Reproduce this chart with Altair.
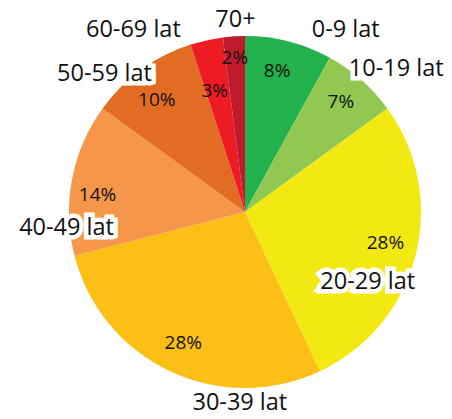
import altair as alt
import pandas as pd
import math

categories = ["0-9 lat", "10-19 lat", "20-29 lat", "30-39 lat", "40-49 lat", "50-59 lat", "60-69 lat", "70+"]
values = [8, 7, 28, 28, 14, 10, 3, 2]
pct_labels = ["8%", "7%", "28%", "28%", "14%", "10%", "3%", "2%"]
colors = ["#22B14C", "#92C851", "#F2E913", "#FBBF15", "#F5964A", "#E36C25", "#ED1C24", "#BE1C2C"]

df = pd.DataFrame({
    "cat": categories,
    "value": values,
    "pct": pct_labels,
    "idx": list(range(len(categories))),
})

CX, CY = 237, 204
R = 176
FONT = "Open Sans"

color = alt.Color("cat:N", scale=alt.Scale(domain=categories, range=colors), legend=None)

# slice start / end / mid fractions computed from the data
base = alt.Chart(df).transform_window(
    cum="sum(value)", sort=[alt.SortField("idx")], frame=[None, 0]
).transform_joinaggregate(
    total="sum(value)"
).transform_calculate(
    start="(datum.cum - datum.value) / datum.total",
    end="datum.cum / datum.total",
    mid="(datum.cum - datum.value / 2) / datum.total",
)
tscale = alt.Scale(domain=[0, 1], range=[0, 2 * math.pi])

arcs = base.mark_arc(outerRadius=R, stroke=None).encode(
    theta=alt.Theta("start:Q", stack=None, scale=tscale),
    theta2="end:Q",
    color=color,
    x=alt.value(CX), y=alt.value(CY),
)

theta_mid = alt.Theta("mid:Q", stack=None, scale=tscale)

# label layout tweaks (pixels) relative to the slice mid-angle anchor
pct_off = {
    "0-9 lat": (-4, -1), "10-19 lat": (0, -1), "20-29 lat": (0, -5), "30-39 lat": (0, 0),
    "40-49 lat": (-5, 10), "50-59 lat": (-3, 5), "60-69 lat": (-3, 1), "70+": (-1, -9),
}
pct_rad = {"60-69 lat": 125}
cat_off = {
    "0-9 lat": (51, 12), "10-19 lat": (19, 7), "20-29 lat": (-71, 20), "30-39 lat": (80, 10),
    "40-49 lat": (18, 53), "50-59 lat": (-23, 24), "60-69 lat": (-68, 13), "70+": (3, 8),
}

layers = [arcs]
for c in categories:
    dx, dy = pct_off[c]
    layers.append(
        base.transform_filter(alt.datum.cat == c)
        .mark_text(radius=pct_rad.get(c, 145), dx=dx, dy=dy, font=FONT, fontSize=19, color="#111111")
        .encode(theta=theta_mid, text="pct:N", x=alt.value(CX), y=alt.value(CY))
    )
for c in categories:
    dx, dy = cat_off[c]
    layers.append(
        base.transform_filter(alt.datum.cat == c)
        .mark_text(radius=200, dx=dx, dy=dy, font=FONT, fontSize=23.5, color="white",
                   stroke="white", strokeWidth=9, strokeJoin="miter")
        .encode(theta=theta_mid, text="cat:N", x=alt.value(CX), y=alt.value(CY))
    )
    layers.append(
        base.transform_filter(alt.datum.cat == c)
        .mark_text(radius=200, dx=dx, dy=dy, font=FONT, fontSize=23.5, color="#111111")
        .encode(theta=theta_mid, text="cat:N", x=alt.value(CX), y=alt.value(CY))
    )

chart = alt.layer(*layers).properties(
    width=436, height=403, padding=0, autosize=alt.AutoSizeParams(type="none")
).configure_view(stroke=None)

chart.save("out.html", embed_options={"renderer": "svg", "actions": False})
